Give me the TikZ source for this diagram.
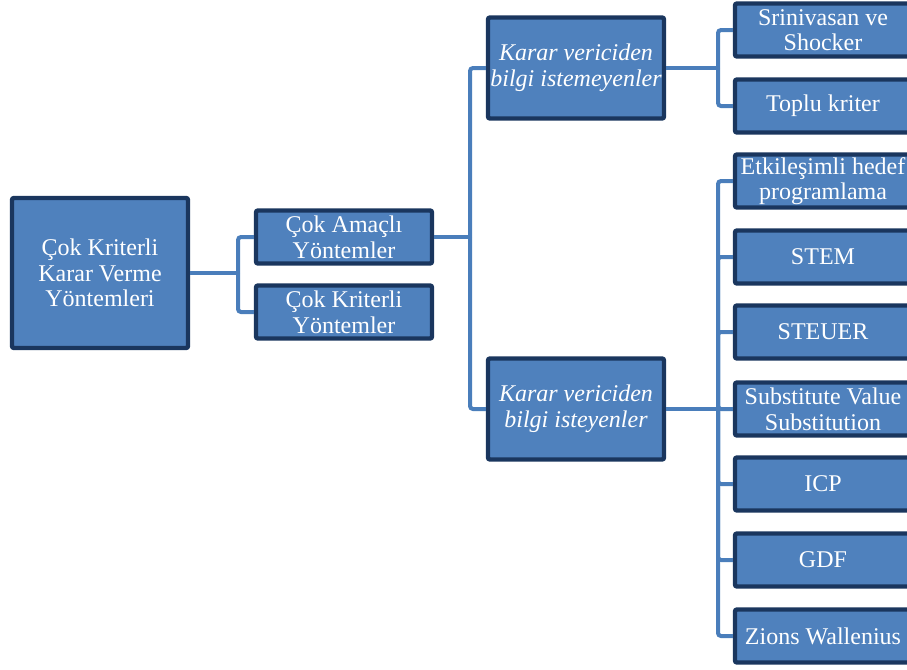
\documentclass[tikz,border=0pt]{standalone}
\usepackage{fontspec}
\setmainfont{Liberation Serif}
\usetikzlibrary{positioning}
\definecolor{boxblue}{RGB}{79,129,189}
\definecolor{boxedge}{RGB}{26,54,94}
\definecolor{linkblue}{RGB}{74,126,187}

\begin{document}
\begin{tikzpicture}[x=0.5pt, y=-0.5pt, font=\fontsize{12}{12.8}\selectfont,
    box/.style={rectangle, rounded corners=1pt, draw=boxedge, line width=2.2pt, fill=boxblue, text=white, align=center,
                minimum width=88pt, minimum height=26.5pt, inner sep=0.5pt},
    link/.style={linkblue, line width=2pt, rounded corners=1.5pt}]
  \useasboundingbox (0,0) rectangle (907,670);
  \clip (0,0) rectangle (907,670);

  \node[box, minimum height=75pt] (root) at (100,273) {Çok Kriterli\\Karar Verme\\Yöntemleri};
  \node[box] (amac) at (344,237) {Çok Amaçlı\\Yöntemler};
  \node[box] (krit) at (344,312) {Çok Kriterli\\Yöntemler};
  \node[box, minimum height=50.5pt, font=\fontsize{12}{12.8}\selectfont\itshape] (yok) at (576,68) {Karar vericiden\\bilgi istemeyenler};
  \node[box, minimum height=50.5pt, font=\fontsize{12}{12.8}\selectfont\itshape] (var) at (576,409) {Karar vericiden\\bilgi isteyenler};

  \node[box] (sri) at (823,30)  {Srinivasan ve\\Shocker};
  \node[box] (top) at (823,106) {Toplu kriter};
  \node[box] (etk) at (823,181) {Etkileşimli hedef\\programlama};
  \node[box] (stm) at (823,257) {STEM};
  \node[box] (stu) at (823,332) {STEUER};
  \node[box] (svs) at (823,409) {Substitute Value\\Substitution};
  \node[box] (icp) at (823,484) {ICP};
  \node[box] (gdf) at (823,560) {GDF};
  \node[box] (zw)  at (823,636) {Zions Wallenius};

  % Junctions
  \coordinate (j1) at (238,273);
  \coordinate (j2) at (470,237);
  \coordinate (j3) at (718,68);
  \coordinate (j4) at (718,409);

  % Tree edges
  \draw[link] (root.east) -- (j1);
  \draw[link] (j1) |- (amac.west);
  \draw[link] (j1) |- (krit.west);
  \draw[link] (amac.east) -- (j2);
  \draw[link] (j2) |- (yok.west);
  \draw[link] (j2) |- (var.west);
  \draw[link] (yok.east) -- (j3);
  \draw[link] (j3) |- (sri.west);
  \draw[link] (j3) |- (top.west);
  \draw[link] (var.east) -- (j4);
  \draw[link] (j4) |- (etk.west);
  \draw[link] (j4) |- (stm.west);
  \draw[link] (j4) |- (stu.west);
  \draw[link] (j4) |- (svs.west);
  \draw[link] (j4) |- (icp.west);
  \draw[link] (j4) |- (gdf.west);
  \draw[link] (j4) |- (zw.west);
\end{tikzpicture}
\end{document}
